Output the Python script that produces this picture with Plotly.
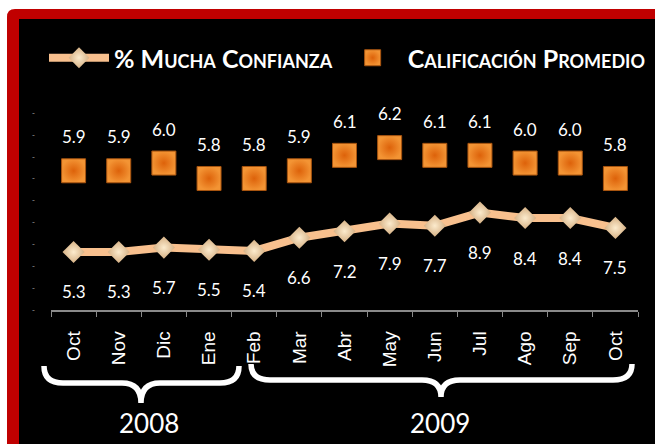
import plotly.graph_objects as go

months = ["Oct", "Nov", "Dic", "Ene", "Feb", "Mar", "Abr", "May", "Jun", "Jul", "Ago", "Sep", "Oct"]
cats = [f"{m}_{i}" for i, m in enumerate(months)]
mucha_confianza = [5.3, 5.3, 5.7, 5.5, 5.4, 6.6, 7.2, 7.9, 7.7, 8.9, 8.4, 8.4, 7.5]
calificacion = [5.9, 5.9, 6.0, 5.8, 5.8, 5.9, 6.1, 6.2, 6.1, 6.1, 6.0, 6.0, 5.8]
years = ["2008", "2009"]
y_ticks = list(range(0, 19, 2))

W, H = 655, 444
L, R, T, B = 51, 638, 113, 310
PW, PH = R - L, B - T

def px(x):
    return (x - L) / PW

def py(y):
    return (B - y) / PH

fig = go.Figure()
fig.add_trace(go.Scatter(
    x=cats, y=mucha_confianza, name="% Mucha Confianza", mode="lines+markers",
    line=dict(color="#F8C08E", width=8),
    marker=dict(symbol="diamond", size=17, color="#D6B185",
                gradient=dict(type="radial", color="#FCEBCD"), line=dict(width=0)),
    yaxis="y", hoverinfo="skip"))
fig.add_trace(go.Scatter(
    x=cats, y=calificacion, name="Calificación Promedio", mode="markers",
    marker=dict(symbol="square", size=24, color="#F39434",
                gradient=dict(type="radial", color="#DD620A"),
                line=dict(width=1, color="#A85410")),
    yaxis="y2", hoverinfo="skip"))

ann = []
for c, v in zip(cats, calificacion):
    ann.append(dict(x=c, y=v, xref="x", yref="y2", yshift=34, text=f"{v:.1f}",
                    xanchor="center", yanchor="middle",
                    showarrow=False, font=dict(family="Lato", size=17, color="white")))
for c, v in zip(cats, mucha_confianza):
    ann.append(dict(x=c, y=v, xref="x", yref="y", yshift=-40, text=f"{v:.1f}",
                    xanchor="center", yanchor="middle",
                    showarrow=False, font=dict(family="Lato", size=17, color="white")))
for txt, cx in zip(years, [149, 440]):
    ann.append(dict(x=px(cx), y=py(423), xref="paper", yref="paper", text=txt,
                    xanchor="center", yanchor="middle",
                    showarrow=False, font=dict(family="Lato", size=26, color="white")))

def pp(coords):
    s = ""
    for cmd, *pts in coords:
        s += cmd
        s += " ".join(f"{px(a):.5f},{py(b):.5f}" for a, b in pts) + " "
    return s.strip()

shapes = []
frame = pp([("M", (7, 460)), ("L", (7, 17)), ("Q", (7, 9), (15, 9)), ("L", (670, 9)),
            ("L", (670, 460)), ("Z",)])
shapes.append(dict(type="path", path=frame, xref="paper", yref="paper",
                   fillcolor="#C00000", line=dict(width=0), layer="below"))
shapes.append(dict(type="rect", x0=px(19), x1=px(670), y0=py(19), y1=py(460),
                   xref="paper", yref="paper", fillcolor="black", line=dict(width=0), layer="below"))

def brace(x0, x1, xc, ytip, ybar, ybot):
    r = 19
    return pp([("M", (x0, ytip)), ("Q", (x0, ybar), (x0 + r, ybar)), ("L", (xc - r, ybar)),
               ("Q", (xc, ybar), (xc, ybot)), ("Q", (xc, ybar), (xc + r, ybar)),
               ("L", (x1 - r, ybar)), ("Q", (x1, ybar), (x1, ytip))])

shapes.append(dict(type="path", path=brace(44, 239, 141, 366, 383, 403), xref="paper", yref="paper",
                   line=dict(color="white", width=5.5)))
shapes.append(dict(type="path", path=brace(251, 632, 441, 364, 380, 397), xref="paper", yref="paper",
                   line=dict(color="white", width=5.5)))

fig.update_layout(
    width=W, height=H, autosize=False,
    margin=dict(l=L, r=W - R, t=T, b=H - B, autoexpand=False, pad=0),
    paper_bgcolor="white", plot_bgcolor="rgba(0,0,0,0)",
    showlegend=True,
    legend=dict(orientation="h", x=px(44), y=py(58), xanchor="left", yanchor="middle",
                font=dict(family="Lato", size=25, color="white", weight="bold", variant="small-caps"),
                bgcolor="rgba(0,0,0,0)", itemwidth=60, tracegroupgap=0),
    xaxis=dict(type="category", tickmode="array", tickvals=cats, ticktext=months,
               tickangle=-90, tickson="boundaries", ticks="outside", ticklen=5,
               tickcolor="#8A8A8A", showline=True, linecolor="#8A8A8A", linewidth=1.5,
               showgrid=False, zeroline=False, automargin=False, ticklabelstandoff=12,
               tickfont=dict(family="Liberation Sans", size=19, color="white"),
               range=[-0.5, 12.5]),
    yaxis=dict(range=[0, 18], tickmode="array", tickvals=y_ticks, ticktext=["-"] * len(y_ticks),
               tickfont=dict(family="DejaVu Sans", size=8, color="#8A8A8A"),
               showgrid=False, zeroline=False, showline=False, ticks="",
               automargin=False, ticklabelstandoff=15),
    yaxis2=dict(range=[4.095, 6.649], overlaying="y", side="right", visible=False,
                showgrid=False, zeroline=False),
    annotations=ann, shapes=shapes,
)

fig.write_html("out.html", config={"displayModeBar": False},
               post_script="document.body.style.margin='0';document.body.style.overflow='hidden';")
